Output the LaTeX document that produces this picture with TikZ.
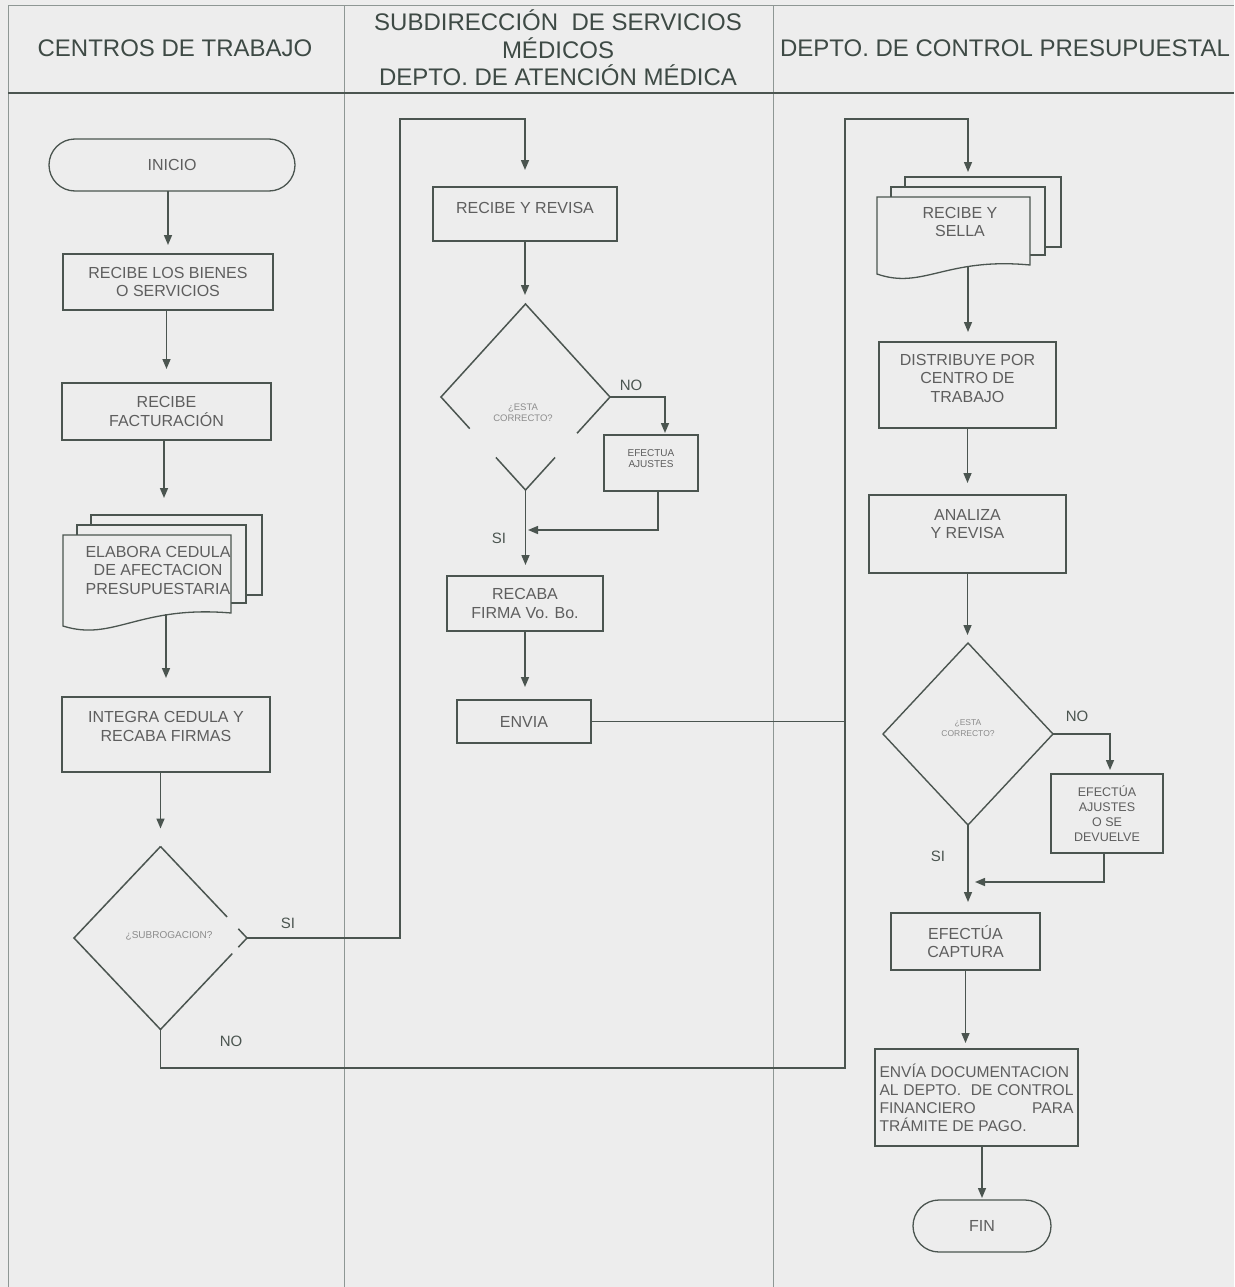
\documentclass[tikz,border=0pt]{standalone}
\usepackage{fontspec}
\setmainfont{Liberation Sans}
\usetikzlibrary{arrows.meta,shapes.geometric,calc}

\definecolor{bg}{HTML}{EDEDED}
\definecolor{ln}{HTML}{4B5550}
\definecolor{lane}{HTML}{8E9794}
\definecolor{txt}{HTML}{5E5E5E}
\definecolor{hdr}{HTML}{3E4A45}
\definecolor{qtxt}{HTML}{8C8C8C}

% extra depth below the last line pushes the text upwards by half the amount
\newcommand\lift[1]{\rule[-#1pt]{0pt}{0pt}}

% stack of three documents: left, top, right, bottom-left, bottom-right
\newcommand\docstack[5]{%
  \filldraw[docpage] ({#1+28},{#2-20}) rectangle ({#3+31},{#5-18});
  \filldraw[docpage] ({#1+14},{#2-10}) rectangle ({#3+15},{#5-10});
  \filldraw[docpage] (#1,#2) -- (#3,#2) -- (#3,#5)
     .. controls ({#1+0.45*(#3-#1)},{#5-8}) and ({#1+0.3*(#3-#1)},{#4+16}) .. (#1,#4) -- cycle;
}

\begin{document}
\begin{tikzpicture}[x=1pt,y=-1pt,
  every node/.style={font=\fontsize{16}{18.5}\selectfont, text=txt, inner sep=0pt, outer sep=0pt},
  proc/.style={draw=ln, line width=1.4pt, fill=bg, align=center},
  term/.style={draw=ln, line width=1.3pt, fill=bg, rounded corners=26pt, align=center},
  decide/.style={diamond, draw=none},
  docpage/.style={draw=ln, line width=1.3pt, fill=bg},
  flow/.style={draw=ln, line width=1.5pt, -{Triangle[length=10pt,width=8pt]}},
  plain/.style={draw=ln, line width=1.5pt},
  hdrtext/.style={font=\fontsize{24}{27.5}\selectfont, text=hdr, align=center},
  quest/.style={font=\fontsize{10}{11.5}\selectfont, text=qtxt, align=center},
  lbl/.style={font=\fontsize{15}{18}\selectfont, text=ln}]

% page and swimlanes
\fill[bg] (0,0) rectangle (1234,1287);
\useasboundingbox (0,0) rectangle (1234,1287);
\draw[lane, line width=1pt] (8,6) -- (1234,6);
\draw[lane, line width=1pt] (8,6) -- (8,1287);
\draw[lane, line width=1pt] (344,6) -- (344,1287);
\draw[lane, line width=1pt] (773,6) -- (773,1287);
\draw[ln, line width=1.6pt] (8,93) -- (1234,93);

\node[hdrtext] (h1) at (175,48) {CENTROS DE TRABAJO};
\node[hdrtext] (h2) at (558,48) {SUBDIRECCIÓN\ \ DE SERVICIOS\\MÉDICOS\\DEPTO. DE ATENCIÓN MÉDICA};
\node[hdrtext] (h3) at (1005,48) {DEPTO. DE CONTROL PRESUPUESTAL};

% ---------- CENTROS DE TRABAJO ----------
\node[term, minimum width=246pt, minimum height=52pt] (start) at (172,165) {INICIO};
\node[proc, minimum width=210pt, minimum height=56pt] (b1) at (168,282) {RECIBE LOS BIENES\\O SERVICIOS};
\node[proc, minimum width=209pt, minimum height=57pt] (b2) at (166.5,411.5) {RECIBE\\FACTURACIÓN};
\docstack{63}{535}{231}{626}{613}
\node[align=center] (doc1) at (158,570) {ELABORA CEDULA\\DE AFECTACION\\PRESUPUESTARIA};
\coordinate (doc1in) at (164,515);
\coordinate (doc1out) at (166,614);
\node[proc, minimum width=208pt, minimum height=75pt] (b3) at (166,734.5) {INTEGRA CEDULA Y\\RECABA FIRMAS\lift{16}};
\node[decide, minimum width=173pt, minimum height=183pt] (d1) at (160.5,938) {};
\draw[plain] (d1.north) -- ($(d1.north)!0.77!(d1.east)$)
  ($(d1.north)!0.9!(d1.east)$) -- (d1.east) -- ($(d1.east)!0.1!(d1.south)$)
  ($(d1.east)!0.17!(d1.south)$) -- (d1.south) -- (d1.west) -- (d1.north);
\node[quest] (d1q) at (169,936) {¿SUBROGACION?};

\draw[flow, shorten >=9pt] (start.south -| b1.north) -- (b1.north);
\draw[flow, shorten >=14pt] (b1.south -| b2.north) -- (b2.north);
\draw[flow, shorten >=17pt] (b2.south -| doc1in) -- (doc1in);
\draw[flow, shorten >=19pt] (doc1out) -- (doc1out |- b3.north);
\draw[flow, shorten >=18pt] (b3.south -| d1.north) -- (d1.north);

% ---------- SUBDIRECCION DE SERVICIOS MEDICOS ----------
\node[proc, minimum width=184pt, minimum height=54pt] (m1) at (525,214) {RECIBE Y REVISA\lift{12}};
\node[decide, minimum width=169pt, minimum height=186pt] (d2) at (525.5,397) {};
\draw[plain] ($(d2.east)!0.39!(d2.south)$) -- (d2.east) -- (d2.north) -- (d2.west)
  -- ($(d2.west)!0.34!(d2.south)$)
  ($(d2.west)!0.65!(d2.south)$) -- (d2.south) -- ($(d2.south)!0.35!(d2.east)$);
\node[quest, font=\fontsize{9.5}{11}\selectfont] (d2q) at (523,413) {¿ESTA\\CORRECTO?};
\node[proc, minimum width=94pt, minimum height=56pt, font=\fontsize{10}{11.5}\selectfont] (m2) at (651,463) {EFECTUA\\AJUSTES\lift{9}};
\node[proc, minimum width=156pt, minimum height=55pt] (m3) at (525,603.5) {RECABA\\FIRMA Vo. Bo.};
\node[proc, minimum width=134pt, minimum height=43pt] (m4) at (524,721.5) {ENVIA};
\coordinate (j1) at (525,530);
\coordinate (c1) at (400,119);

\draw[flow, shorten >=17pt] (d1.east) -| (c1) -| (m1.north);
\node[lbl] (si1) at (288,923) {SI};
\draw[flow, shorten >=9pt] (m1.south) -- (m1.south |- d2.north);
\draw[flow, shorten >=2pt] (d2.east) -| ($(m2.north)+(14,0)$);
\node[lbl] (no2) at (631,385) {NO};
\draw[flow, shorten >=3pt] ($(m2.south)+(7,0)$) |- (j1);
\draw[flow, shorten >=11pt] (d2.south) -- (d2.south |- m3.north);
\node[lbl] (si2) at (499,538) {SI};
\draw[flow, shorten >=13pt] (m3.south) -- (m3.south |- m4.north);

% ---------- DEPTO. DE CONTROL PRESUPUESTAL ----------
\docstack{877}{197}{1030}{274}{265}
\node[align=center] (doc2) at (960,222) {RECIBE Y\\SELLA};
\coordinate (doc2in) at (968,180);
\coordinate (doc2out) at (968,267);
\node[proc, minimum width=177pt, minimum height=86pt] (r1) at (967.5,385) {DISTRIBUYE POR\\CENTRO DE\\TRABAJO\lift{14}};
\node[proc, minimum width=197pt, minimum height=78pt] (r2) at (967.5,534) {ANALIZA\\Y REVISA\lift{20}};
\node[decide, draw=ln, line width=1.4pt, minimum width=170pt, minimum height=182pt] (d3) at (968,734) {};
\node[quest, font=\fontsize{8.5}{11}\selectfont] (d3q) at (968,728) {¿ESTA\\CORRECTO?};
\node[proc, minimum width=112pt, minimum height=79pt, font=\fontsize{12.5}{15}\selectfont] (r3) at (1107,813.5) {EFECTÚA\\AJUSTES\\O SE\\DEVUELVE};
\node[proc, minimum width=149pt, minimum height=57pt] (r4) at (965.5,941.5) {EFECTÚA\\CAPTURA};
\node[proc, minimum width=203pt, minimum height=97pt, align=left, font=\fontsize{15.6}{18}\selectfont] (r5) at (976.5,1097.5)
  {ENVÍA DOCUMENTACION\\\makebox[194pt][s]{AL DEPTO.\ \ DE CONTROL}\\\makebox[194pt][s]{FINANCIERO PARA}\\TRÁMITE DE PAGO.};
\node[term, minimum width=138pt, minimum height=52pt] (fin) at (982,1226) {FIN};
\coordinate (j2) at (967,882);
\coordinate (c2) at (845,1068);
\coordinate (c3) at (845,119);

\draw[plain] (m4.east) -- (m4.east -| c3);
\draw[flow, shorten >=8pt] (d1.south) |- (c2) -- (c3) -| (doc2in);
\node[lbl] (no1) at (231,1041) {NO};
\draw[flow, shorten >=10pt] (doc2out) -- (doc2out |- r1.north);
\draw[flow, shorten >=12pt] (r1.south) -- (r2.north);
\draw[flow, shorten >=8pt] (r2.south) -- (r2.south |- d3.north);
\draw[flow, shorten >=4pt] (d3.east) -| ($(r3.north)+(3,0)$);
\node[lbl] (no3) at (1077,716) {NO};
\draw[flow, shorten >=8pt] ($(r3.south)+(-3,0)$) |- (j2);
\draw[flow, shorten >=11pt] (d3.south) -- (d3.south |- r4.north);
\node[lbl] (si3) at (938,856) {SI};
\draw[flow, shorten >=6pt] (r4.south) -- (r4.south |- r5.north);
\draw[flow, shorten >=2pt] (r5.south -| fin.north) -- (fin.north);
\end{tikzpicture}
\end{document}
